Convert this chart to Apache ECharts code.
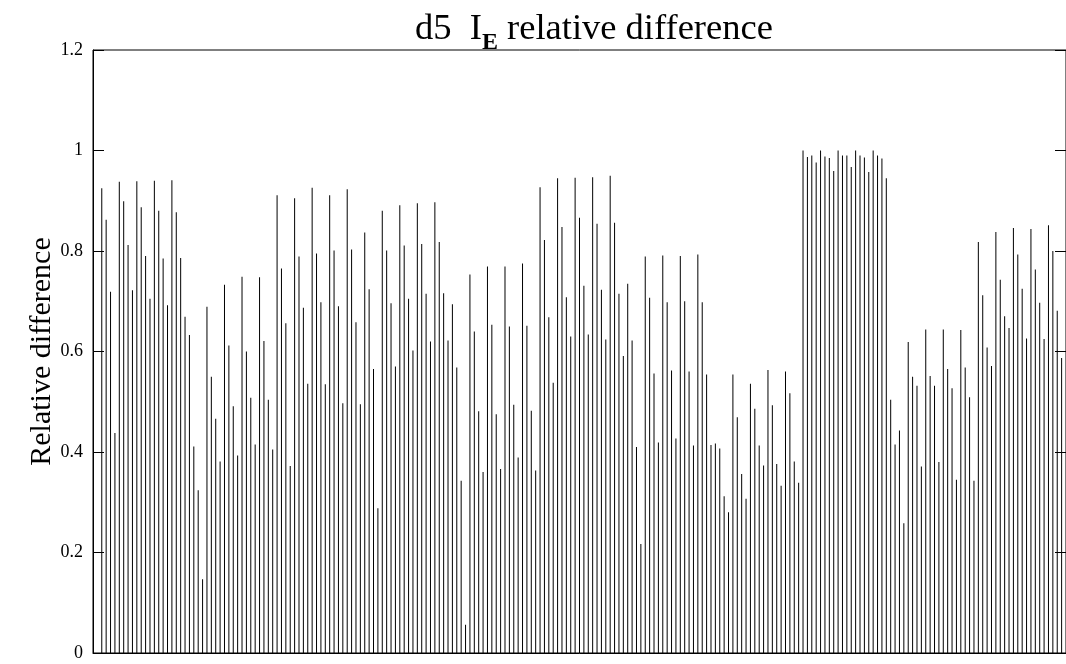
<!DOCTYPE html>
<html>
<head>
<meta charset="utf-8">
<script src="https://cdn.jsdelivr.net/npm/echarts@6/dist/echarts.min.js"></script>
<style>html,body{margin:0;padding:0;background:#fff}#c{width:1066px;height:664px}</style>
</head>
<body>
<div id="c"></div>
<script>
const titleText = 'd5  I';
const titleSub = 'E';
const titleRest = ' relative difference';
const yName = 'Relative difference';
const yTicks = [0, 0.2, 0.4, 0.6, 0.8, 1, 1.2];
const values = [
0.925,0.862,0.719,0.438,0.938,0.899,0.812,0.722,0.939,0.887,
0.790,0.705,0.940,0.880,0.785,0.692,0.941,0.877,0.786,0.669,
0.633,0.411,0.324,0.147,0.689,0.550,0.466,0.381,0.733,0.612,
0.491,0.393,0.749,0.600,0.508,0.415,0.748,0.621,0.504,0.405,
0.911,0.765,0.656,0.372,0.905,0.789,0.687,0.536,0.926,0.795,
0.698,0.535,0.911,0.801,0.690,0.497,0.923,0.803,0.658,0.495,
0.837,0.724,0.565,0.288,0.880,0.801,0.696,0.570,0.891,0.811,
0.705,0.602,0.895,0.814,0.715,0.620,0.897,0.818,0.716,0.622,
0.694,0.568,0.343,0.056,0.753,0.640,0.481,0.360,0.769,0.653,
0.475,0.366,0.769,0.650,0.494,0.389,0.775,0.651,0.482,0.363,
0.927,0.822,0.668,0.538,0.945,0.848,0.708,0.630,0.946,0.866,
0.731,0.634,0.947,0.854,0.723,0.624,0.950,0.856,0.715,0.591,
0.735,0.622,0.410,0.217,0.789,0.707,0.556,0.419,0.791,0.698,
0.562,0.427,0.790,0.700,0.560,0.413,0.793,0.698,0.554,0.414,
0.417,0.407,0.312,0.280,0.554,0.469,0.356,0.307,0.536,0.486,
0.413,0.373,0.563,0.493,0.376,0.333,0.560,0.517,0.381,0.339,
1.000,0.987,0.990,0.976,1.000,0.988,0.985,0.959,1.000,0.990,
0.990,0.967,1.000,0.990,0.986,0.957,1.000,0.990,0.984,0.945,
0.504,0.415,0.443,0.258,0.619,0.550,0.532,0.371,0.644,0.551,
0.532,0.380,0.644,0.565,0.527,0.345,0.643,0.568,0.509,0.343,
0.818,0.712,0.608,0.571,0.838,0.743,0.670,0.647,0.846,0.793,
0.725,0.626,0.844,0.763,0.697,0.625,0.851,0.800,0.681,0.587
];

const serif = '"Liberation Serif", "DejaVu Serif", serif';
const data = values.map((v, i) => [i + 1, v]);

const chart = echarts.init(document.getElementById('c'), null, {renderer: 'canvas'});
const yCommon = {
  type: 'value', min: 0, max: 1.2, interval: 0.2,
  splitLine: {show: false},
  axisLine: {show: true, onZero: false, lineStyle: {color: '#000', width: 1}},
  axisTick: {show: true, inside: true, length: 11, lineStyle: {color: '#000'}}
};
chart.setOption({
  animation: false,
  backgroundColor: '#fff',
  title: {
    text: '{a|' + titleText + '}{e|' + titleSub + '}{a|' + titleRest + '}',
    left: 410, top: 6,
    textStyle: {
      fontWeight: 'normal',
      rich: {
        a: {fontSize: 36.5, fontFamily: serif, fontWeight: 'normal', color: '#000', verticalAlign: 'top'},
        e: {fontSize: 24, fontFamily: serif, fontWeight: 'bold', color: '#000', verticalAlign: 'top', padding: [20, 0, 0, 0]}
      }
    }
  },
  grid: {left: 93, right: -1, top: 50, bottom: 11, show: true, borderColor: '#000', borderWidth: 1},
  xAxis: {
    type: 'value', min: -1, max: 221,
    axisLine: {show: true, onZero: false, lineStyle: {color: '#000'}},
    axisTick: {show: false}, axisLabel: {show: false}, splitLine: {show: false}
  },
  yAxis: [
    Object.assign({}, yCommon, {
      position: 'left',
      name: yName, nameLocation: 'middle', nameGap: 36, nameRotate: 90,
      nameMoveOverlap: false,
      nameTextStyle: {fontSize: 30, fontFamily: serif, color: '#000'},
      axisLabel: {show: true, fontSize: 18, fontFamily: serif, color: '#000', margin: 10,
        customValues: yTicks, formatter: v => String(v)}
    }),
    Object.assign({}, yCommon, {position: 'right', axisLabel: {show: false}})
  ],
  series: [{
    type: 'bar', data: data, barWidth: 1, yAxisIndex: 0,
    itemStyle: {color: '#000'}, silent: true
  }]
});
</script>
</body>
</html>
